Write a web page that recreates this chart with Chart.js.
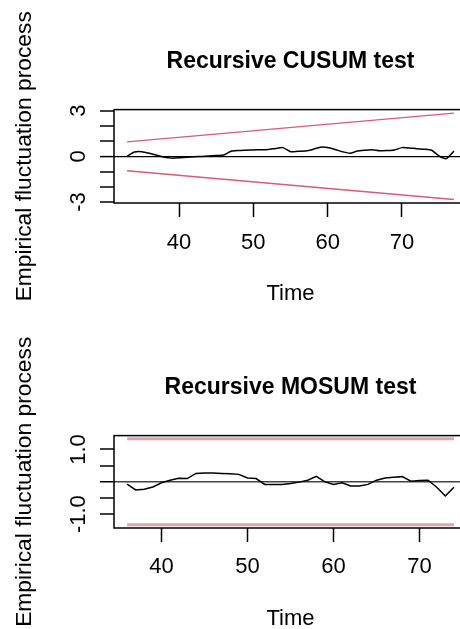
<!DOCTYPE html>
<html>
<head>
<meta charset="utf-8">
<script src="https://cdn.jsdelivr.net/npm/chart.js@4.4.1/dist/chart.umd.min.js"></script>
<style>
  html, body { margin: 0; padding: 0; background: #fff; width: 460px; height: 629px; overflow: hidden; position: relative; }
  #wrapTop { position: absolute; left: 0; top: 0; width: 480px; height: 314px; }
  #wrapBot { position: absolute; left: 0; top: 314px; width: 480px; height: 340px; }
  canvas { display: block; }
</style>
</head>
<body>
<div id="wrapTop"><canvas id="cusum"></canvas></div>
<div id="wrapBot"><canvas id="mosum"></canvas></div>
<script>
// ---------- Recursive CUSUM test ----------
const cusumTime = [33,34,35,36,37,38,39,40,41,42,43,44,45,46,47,48,49,50,51,52,53,54,55,
                   56,57,58,59,60,61,62,63,64,65,66,67,68,69,70,71,72,73,74,75,76,77];
const cusumValues = [0.00,0.28,0.30,0.20,0.07,-0.06,-0.12,-0.10,-0.06,-0.03,-0.01,0.02,0.05,0.08,
                     0.33,0.38,0.40,0.42,0.43,0.45,0.52,0.57,0.30,0.33,0.35,0.45,0.60,0.58,0.45,
                     0.30,0.20,0.35,0.40,0.43,0.36,0.38,0.42,0.57,0.55,0.50,0.47,0.40,0.02,-0.15,0.35];
const cusumBoundTime = [33, 77];
const cusumUpper = [0.95, 2.84];
const cusumLower = [-0.95, -2.84];
const cusumXLim = [31.24, 78.76];
const cusumYLim = [-3.07, 3.07];
const cusumXTicks = [40, 50, 60, 70];
const cusumYTicks = [-3, -2, -1, 0, 1, 2, 3];
const cusumYLabels = [-3, 0, 3];

// ---------- Recursive MOSUM test ----------
const mosumTime = [36,37,38,39,40,41,42,43,44,45,46,47,48,49,50,51,52,53,54,55,56,57,58,59,
                   60,61,62,63,64,65,66,67,68,69,70,71,72,73,74];
const mosumValues = [-0.07,-0.25,-0.23,-0.16,-0.03,0.05,0.11,0.10,0.26,0.27,0.27,0.26,0.25,0.23,
                     0.12,0.10,-0.08,-0.08,-0.08,-0.05,-0.01,0.05,0.17,0.00,-0.08,-0.03,-0.13,
                     -0.13,-0.08,0.05,0.12,0.14,0.16,0.02,0.04,0.05,-0.17,-0.44,-0.17];
const mosumBoundTime = [36, 74];
const mosumUpper = [1.33, 1.33];
const mosumLower = [-1.33, -1.33];
const mosumXLim = [34.48, 75.52];
const mosumYLim = [-1.43, 1.43];
const mosumXTicks = [40, 50, 60, 70];
const mosumYTicks = [-1, -0.5, 0, 0.5, 1];
const mosumYLabels = [-1, 1];

const titles = ['Recursive CUSUM test', 'Recursive MOSUM test'];
const xTitle = 'Time';
const yTitle = 'Empirical fluctuation process';

Chart.defaults.color = '#000';
Chart.defaults.font.family = "'Liberation Sans', Arial, Helvetica, sans-serif";
Chart.defaults.animation = false;

const pts = (xs, ys) => xs.map((x, i) => ({x: x, y: ys[i]}));

const boxPlugin = {
  id: 'box',
  afterDatasetsDraw(chart) {
    const {ctx, chartArea: a} = chart;
    ctx.save();
    ctx.strokeStyle = '#000';
    ctx.lineWidth = 1.5;
    ctx.strokeRect(a.left, a.top, a.right - a.left, a.bottom - a.top);
    ctx.restore();
  }
};

function makeChart(id, cfg) {
  const el = document.getElementById(id);
  el.width = 480; el.height = cfg.height;
  el.style.width = '480px'; el.style.height = cfg.height + 'px';
  return new Chart(el, {
    type: 'line',
    data: {
      datasets: [
        { data: pts(cfg.time, cfg.values), borderColor: '#000', borderWidth: 1.5,
          pointRadius: 0, tension: cfg.tension, fill: false },
        { data: pts(cfg.boundTime, cfg.upper), borderColor: cfg.boundColor, borderWidth: cfg.boundWidth,
          pointRadius: 0, fill: false },
        { data: pts(cfg.boundTime, cfg.lower), borderColor: cfg.boundColor, borderWidth: cfg.boundWidth,
          pointRadius: 0, fill: false }
      ]
    },
    options: {
      responsive: false,
      maintainAspectRatio: false,
      layout: { padding: { left: 0, right: 13, top: 0, bottom: 0 } },
      plugins: {
        legend: { display: false },
        tooltip: { enabled: false },
        title: {
          display: true, text: cfg.title, fullSize: false,
          font: { size: 23, weight: 'bold' }, color: '#000',
          padding: { top: cfg.titleTop, bottom: cfg.titleBottom }
        }
      },
      scales: {
        x: {
          type: 'linear', position: 'bottom',
          min: cfg.xlim[0], max: cfg.xlim[1],
          afterBuildTicks: s => { s.ticks = cfg.xticks.map(v => ({value: v})); },
          afterFit: s => { s.height = cfg.xAxisHeight; s.paddingLeft = 0; s.paddingRight = 0; },
          grid: { display: true, drawOnChartArea: false, drawTicks: true, tickLength: 14,
                  tickColor: '#000', tickWidth: 1.5, color: '#000' },
          border: { display: false },
          ticks: { font: { size: 22 }, color: '#000', padding: cfg.xTickPad, maxRotation: 0, minRotation: 0,
                   autoSkip: false, callback: v => String(v) },
          title: { display: true, text: xTitle, font: { size: 22 }, color: '#000',
                   padding: { top: cfg.xTitlePad, bottom: cfg.xTitlePad } }
        },
        y: {
          type: 'linear', position: 'left',
          min: cfg.ylim[0], max: cfg.ylim[1],
          afterBuildTicks: s => { s.ticks = cfg.yticks.map(v => ({value: v})); },
          afterFit: s => { s.width = 114; s.paddingTop = 0; s.paddingBottom = 0; },
          grid: { display: true, drawOnChartArea: true, drawTicks: true, tickLength: 14,
                  tickColor: '#000', tickWidth: 1.5,
                  color: c => (c.tick && c.tick.value === 0) ? cfg.zeroColor : 'rgba(0,0,0,0)',
                  lineWidth: c => (c.tick && c.tick.value === 0) ? cfg.zeroWidth : 0 },
          border: { display: false },
          ticks: { font: { size: 22 }, color: '#000', padding: cfg.yTickPad, minRotation: 90, maxRotation: 90,
                   crossAlign: 'center', autoSkip: false,
                   callback: v => cfg.ylabels.indexOf(v) >= 0 ? cfg.yfmt(v) : '' },
          title: { display: true, text: yTitle, font: { size: 22.8 }, color: '#000',
                   padding: { top: 11, bottom: 11 } }
        }
      }
    },
    plugins: [boxPlugin]
  });
}

makeChart('cusum', {
  height: 314, title: titles[0], titleTop: 48, titleBottom: 34,
  time: cusumTime, values: cusumValues, tension: 0.2,
  boundTime: cusumBoundTime, upper: cusumUpper, lower: cusumLower,
  boundColor: '#DA5A78', boundWidth: 1.3,
  xlim: cusumXLim, ylim: cusumYLim, xticks: cusumXTicks, yticks: cusumYTicks, ylabels: cusumYLabels,
  yfmt: v => String(v), xAxisHeight: 111, xTickPad: 13, xTitlePad: 7, yTickPad: 11,
  zeroColor: '#000', zeroWidth: 1.2
});

makeChart('mosum', {
  height: 340, title: titles[1], titleTop: 60, titleBottom: 34,
  time: mosumTime, values: mosumValues, tension: 0,
  boundTime: mosumBoundTime, upper: mosumUpper, lower: mosumLower,
  boundColor: '#E2A3B1', boundWidth: 3,
  xlim: mosumXLim, ylim: mosumYLim, xticks: mosumXTicks, yticks: mosumYTicks, ylabels: mosumYLabels,
  yfmt: v => v.toFixed(1), xAxisHeight: 126, xTickPad: 12, xTitlePad: 22, yTickPad: 2,
  zeroColor: '#444', zeroWidth: 1.5
});
</script>
</body>
</html>
